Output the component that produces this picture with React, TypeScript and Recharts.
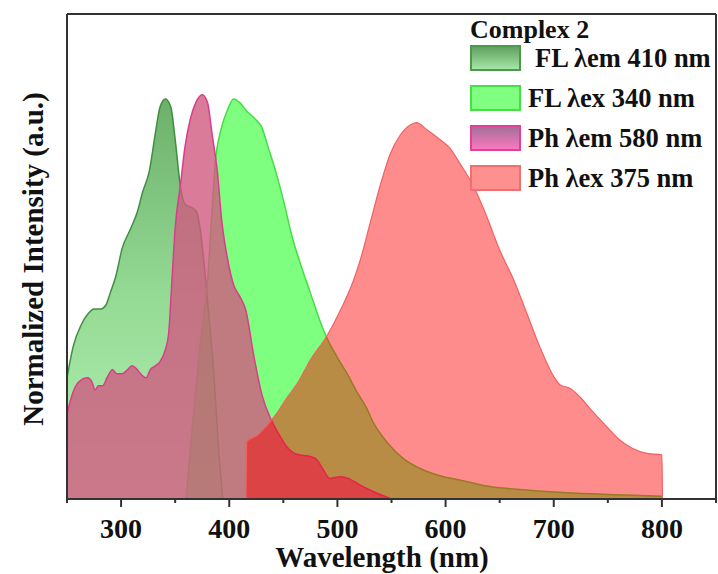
import React from 'react';
import { ComposedChart, Area, XAxis, YAxis, ReferenceLine, Legend } from 'recharts';

// ---- data (wavelength in nm, normalized intensity) ----
const flEm410X = [250, 256, 263, 270, 275, 281, 286, 290, 295, 301, 309, 315, 320, 326, 332, 336, 341, 346, 350, 355, 359, 366, 370, 373, 376, 381, 386, 390, 394];
const flEm410Y = [0.30, 0.38, 0.43, 0.46, 0.47, 0.47, 0.48, 0.51, 0.55, 0.62, 0.67, 0.71, 0.76, 0.81, 0.91, 0.97, 0.99, 0.97, 0.89, 0.77, 0.73, 0.72, 0.71, 0.67, 0.60, 0.46, 0.30, 0.13, 0];

const flEx340X = [360, 367, 373, 380, 384, 387, 392, 398, 404, 410, 416, 424, 430, 436, 443, 450, 458, 466, 475, 484, 490, 500, 509, 518, 527, 533, 546, 561, 576, 598, 613, 638, 675, 721, 767, 800];
const flEx340Y = [0, 0.21, 0.38, 0.54, 0.71, 0.83, 0.91, 0.96, 0.99, 0.98, 0.96, 0.94, 0.92, 0.87, 0.81, 0.74, 0.65, 0.58, 0.51, 0.44, 0.40, 0.35, 0.31, 0.265, 0.225, 0.19, 0.14, 0.10, 0.076, 0.055, 0.047, 0.032, 0.022, 0.014, 0.010, 0.007];

const phEm580X = [250, 255, 261, 269, 273, 276, 279, 283, 287, 292, 296, 301, 306, 310, 315, 318, 323, 327, 332, 336, 341, 344, 347, 350, 355, 359, 364, 369, 375, 380, 384, 389, 393, 398, 404, 410, 415, 423, 430, 438, 446, 453, 463, 475, 481, 487, 493, 503, 510, 518, 527, 550];
const phEm580Y = [0.21, 0.26, 0.29, 0.30, 0.29, 0.27, 0.28, 0.28, 0.30, 0.32, 0.31, 0.31, 0.32, 0.33, 0.32, 0.31, 0.30, 0.32, 0.33, 0.34, 0.37, 0.41, 0.54, 0.67, 0.78, 0.87, 0.94, 0.98, 1.0, 0.98, 0.905, 0.81, 0.69, 0.60, 0.53, 0.50, 0.47, 0.35, 0.26, 0.20, 0.16, 0.13, 0.11, 0.105, 0.097, 0.072, 0.051, 0.055, 0.051, 0.039, 0.026, 0];

const phEx375X = [415.5, 416, 426, 435, 444, 453, 463, 475, 490, 503, 515, 521, 530, 540, 549, 558, 567, 573, 583, 595, 604, 613, 626, 638, 650, 663, 675, 687, 700, 706, 715, 724, 736, 749, 761, 773, 786, 800, 800.5];
const phEx375Y = [0, 0.142, 0.158, 0.183, 0.212, 0.249, 0.286, 0.344, 0.402, 0.468, 0.542, 0.59, 0.68, 0.78, 0.855, 0.90, 0.925, 0.931, 0.913, 0.889, 0.868, 0.831, 0.773, 0.699, 0.616, 0.542, 0.460, 0.377, 0.303, 0.282, 0.274, 0.253, 0.216, 0.179, 0.146, 0.125, 0.113, 0.109, 0];

const xTicks = [250, 300, 350, 400, 450, 500, 550, 600, 650, 700, 750, 800, 850];
const legendTitle = 'Complex 2';
const seriesNames = ['FL \u03bbem 410 nm', 'FL \u03bbex 340 nm', 'Ph \u03bbem 580 nm', 'Ph \u03bbex 375 nm'];

const FONT = '"Liberation Serif", "Times New Roman", Times, serif';

const seriesList = [
  { key: 'flEm', x: flEm410X, y: flEm410Y },
  { key: 'flEx', x: flEx340X, y: flEx340Y },
  { key: 'phEm', x: phEm580X, y: phEm580Y },
  { key: 'phEx', x: phEx375X, y: phEx375Y },
];

const rows: any[] = [];
seriesList.forEach((s) => {
  s.x.forEach((wl, i) => {
    rows.push({ wl, [s.key]: s.y[i] });
  });
});
rows.sort((a, b) => a.wl - b.wl);

function XTick(props: any) {
  const { x, y, payload } = props;
  const v = payload.value;
  const major = v % 100 === 0;
  return (
    <g>
      <line x1={x} x2={x} y1={y} y2={y + (major ? 8 : 4)} stroke="#333" strokeWidth={2} />
      {major && (
        <text x={x} y={y + 39} textAnchor="middle" fontFamily={FONT} fontWeight="bold" fontSize={28} fill="#111">
          {v}
        </text>
      )}
    </g>
  );
}

function XLabel() {
  return (
    <text x={382} y={567} textAnchor="middle" fontFamily={FONT} fontWeight="bold" fontSize={29} fill="#111">
      Wavelength (nm)
    </text>
  );
}

function YLabel() {
  return (
    <text x={43} y={259} transform="rotate(-90 43 259)" textAnchor="middle" fontFamily={FONT} fontWeight="bold" fontSize={29} fill="#111">
      Normalized Intensity (a.u.)
    </text>
  );
}

function LegendBox() {
  const swatches = [
    { fill: 'url(#lgDark)', stroke: '#4a9a4a', tx: 75 },
    { fill: '#80ff80', stroke: '#44e044', tx: 68 },
    { fill: 'url(#lgPink)', stroke: '#e0409a', tx: 68 },
    { fill: '#ff9090', stroke: '#f07070', tx: 68 },
  ];
  return (
    <svg width={258} height={200} style={{ display: 'block' }}>
      <defs>
        <linearGradient id="lgDark" x1="0" y1="0" x2="0" y2="1">
          <stop offset="0%" stopColor="#5c9e5c" />
          <stop offset="100%" stopColor="#a8e8a8" />
        </linearGradient>
        <linearGradient id="lgPink" x1="0" y1="0" x2="0" y2="1">
          <stop offset="0%" stopColor="#a07098" />
          <stop offset="100%" stopColor="#ff78c0" />
        </linearGradient>
      </defs>
      <text x={10} y={38} fontFamily={FONT} fontWeight="bold" fontSize={26} fill="#111">
        {legendTitle}
      </text>
      {seriesNames.map((name, i) => (
        <g key={name}>
          <rect x={11} y={46 + i * 40} width={49} height={24} fill={swatches[i].fill} stroke={swatches[i].stroke} strokeWidth={2} />
          <text x={swatches[i].tx} y={67 + i * 40} fontFamily={FONT} fontWeight="bold" fontSize={26.5} fill="#111">
            {name}
          </text>
        </g>
      ))}
    </svg>
  );
}

export default function App() {
  return (
    <div style={{ position: 'absolute', left: 0, top: 0, width: 718, height: 574, background: '#fff' }}>
      <ComposedChart width={718} height={574} data={rows} margin={{ top: 14, right: 2, bottom: 0, left: 0 }}>
        <defs>
          <linearGradient id="gDark" x1="0" y1="0" x2="0" y2="1">
            <stop offset="0%" stopColor="#6cb06c" />
            <stop offset="50%" stopColor="#95da95" />
            <stop offset="100%" stopColor="#b5f2b5" />
          </linearGradient>
        </defs>
        <XAxis
          dataKey="wl"
          type="number"
          domain={[250, 850]}
          ticks={xTicks}
          interval={0}
          height={75}
          tickLine={false}
          tickSize={0}
          tickMargin={0}
          tick={<XTick />}
          axisLine={{ stroke: '#333', strokeWidth: 2 }}
          label={<XLabel />}
        />
        <YAxis
          type="number"
          domain={[0, 1.2]}
          width={67}
          tick={false}
          tickLine={false}
          axisLine={{ stroke: '#333', strokeWidth: 2 }}
          label={<YLabel />}
          allowDataOverflow
        />
        <Area dataKey="flEm" type="monotone" connectNulls isAnimationActive={false} fill="url(#gDark)" fillOpacity={1} stroke="#3f8f3f" strokeWidth={1.5} dot={false} activeDot={false} />
        <Area dataKey="flEx" type="monotone" connectNulls isAnimationActive={false} fill="#00ff00" fillOpacity={0.5} stroke="#44dd44" strokeWidth={1.5} dot={false} activeDot={false} />
        <Area dataKey="phEm" type="monotone" connectNulls isAnimationActive={false} fill="#d05a80" fillOpacity={0.8} stroke="#d93d8c" strokeWidth={1.5} dot={false} activeDot={false} />
        <Area dataKey="phEx" type="monotone" connectNulls isAnimationActive={false} fill="#ff0000" fillOpacity={0.45} stroke="#f26060" strokeWidth={1.2} dot={false} activeDot={false} />
        <ReferenceLine y={1.2} stroke="#333" strokeWidth={2} />
        <ReferenceLine x={850} stroke="#333" strokeWidth={2} />
        <Legend
          layout="horizontal"
          verticalAlign="middle"
          align="center"
          content={() => <LegendBox />}
          wrapperStyle={{ position: 'absolute', left: 460, top: 0, width: 258, height: 200 }}
        />
      </ComposedChart>
    </div>
  );
}
